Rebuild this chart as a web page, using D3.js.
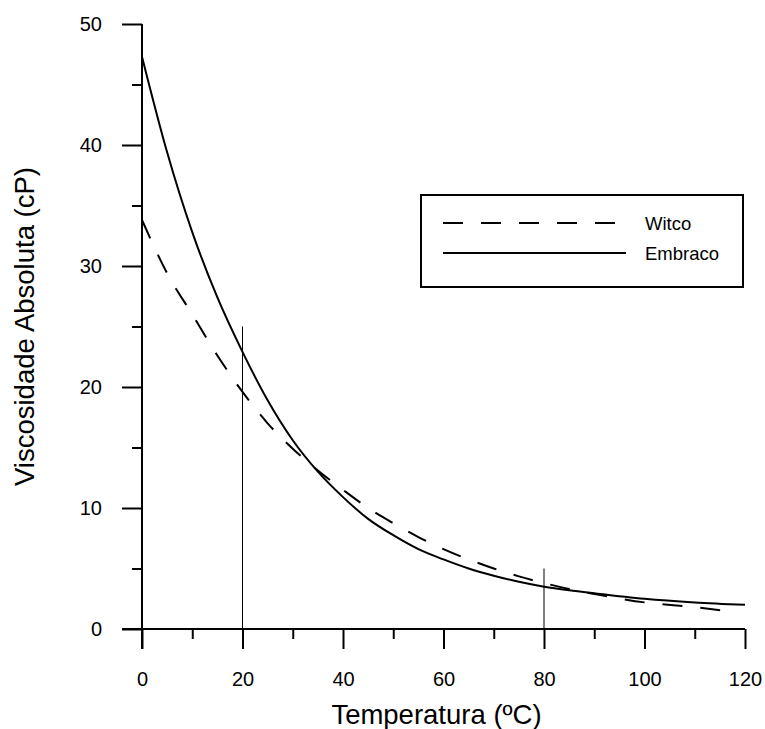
<!DOCTYPE html>
<html>
<head>
<meta charset="utf-8">
<script src="https://d3js.org/d3.v7.min.js"></script>
<style>
  body { margin: 0; background: #fff; }
  svg { font-family: "Liberation Sans", Arial, sans-serif; }
</style>
</head>
<body>
<div id="chart"></div>
<script>
// Temperature points (ºC)
const temps = [0, 5, 10, 15, 20, 25, 30, 35, 40, 45, 50, 55, 60, 65, 70, 75, 80, 85, 90, 100, 110, 120];
const embraco = [47.3, 39.4, 32.8, 27.4, 22.9, 18.9, 15.6, 13.0, 10.9, 9.1, 7.75, 6.6, 5.75, 5.0, 4.4, 3.9, 3.5, 3.2, 2.95, 2.5, 2.2, 2.0];
const witcoTemps = [0, 5, 10, 15, 20, 25, 30, 35, 40, 45, 50, 55, 60, 65, 70, 75, 80, 85, 90, 100, 110, 118];
const witco = [33.8, 29.4, 26.0, 22.6, 19.6, 17.0, 14.9, 13.1, 11.5, 10.0, 8.75, 7.6, 6.6, 5.75, 5.0, 4.35, 3.8, 3.3, 2.9, 2.2, 1.8, 1.4];

const xMajor = [0, 20, 40, 60, 80, 100, 120];
const xMinor = [10, 30, 50, 70, 90, 110];
const yMajor = [0, 10, 20, 30, 40, 50];
const yMinor = [5, 15, 25, 35, 45];

// vertical marker lines: [temperature, top value]
const markers = [[20, 25], [80, 5]];

const seriesNames = ['Witco', 'Embraco'];

const W = 765, H = 729;
const margin = { top: 24, right: 20, bottom: 100, left: 142 },
    width = 745 - margin.left,
    height = 629 - margin.top;

const svg = d3.select('#chart').append('svg')
    .attr('width', W)
    .attr('height', H)
    .append('g')
    .attr('transform', `translate(${margin.left},${margin.top})`);

const x = d3.scaleLinear().domain([0, 120]).range([0, width]);
const y = d3.scaleLinear().domain([0, 50]).range([height, 0]);

// Axes
function styleAxis(g) {
    g.selectAll('path, line').attr('stroke', '#000').attr('stroke-width', 2);
    g.selectAll('text').style('font-size', '20px').attr('fill', '#000');
}

svg.append('g')
    .attr('transform', `translate(0,${height})`)
    .call(d3.axisBottom(x).tickValues(xMajor).tickSize(20).tickSizeOuter(0).tickPadding(23))
    .call(g => g.select('.domain').attr('d', `M-20,0H${width}`))
    .call(styleAxis);

svg.append('g')
    .attr('transform', `translate(0,${height})`)
    .call(d3.axisBottom(x).tickValues(xMinor).tickSize(10).tickFormat(''))
    .call(g => g.select('.domain').remove())
    .call(styleAxis);

svg.append('g')
    .call(d3.axisLeft(y).tickValues(yMajor).tickSize(20).tickSizeOuter(0).tickPadding(20))
    .call(g => g.select('.domain').attr('d', `M0,0V${height + 20}`))
    .call(styleAxis);

svg.append('g')
    .call(d3.axisLeft(y).tickValues(yMinor).tickSize(10).tickFormat(''))
    .call(g => g.select('.domain').remove())
    .call(styleAxis);

// Marker lines
svg.append('g')
    .selectAll('line')
    .data(markers)
    .enter().append('line')
    .attr('x1', d => x(d[0]))
    .attr('x2', d => x(d[0]))
    .attr('y1', y(0))
    .attr('y2', d => y(d[1]))
    .attr('stroke', '#000')
    .attr('stroke-width', 1);

// Curves
const line = d3.line()
    .x(d => x(d[0]))
    .y(d => y(d[1]))
    .curve(d3.curveMonotoneX);

svg.append('path')
    .datum(witcoTemps.map((t, i) => [t, witco[i]]))
    .attr('d', line)
    .attr('fill', 'none')
    .attr('stroke', '#000')
    .attr('stroke-width', 2)
    .attr('stroke-dasharray', '20,18');

svg.append('path')
    .datum(temps.map((t, i) => [t, embraco[i]]))
    .attr('d', line)
    .attr('fill', 'none')
    .attr('stroke', '#000')
    .attr('stroke-width', 2);

// Axis titles
svg.append('text')
    .attr('x', width / 2 - 7)
    .attr('y', height + 95)
    .attr('text-anchor', 'middle')
    .style('font-size', '27.5px')
    .text('Temperatura (ºC)');

svg.append('text')
    .attr('transform', `translate(${34 - margin.left},${height / 2}) rotate(-90)`)
    .attr('text-anchor', 'middle')
    .style('font-size', '27.5px')
    .text('Viscosidade Absoluta (cP)');

// Legend
const legend = svg.append('g')
    .attr('transform', `translate(${421 - margin.left},${195 - margin.top})`);

legend.append('rect')
    .attr('width', 322)
    .attr('height', 92)
    .attr('fill', '#fff')
    .attr('stroke', '#000')
    .attr('stroke-width', 2);

legend.selectAll('line.key')
    .data(seriesNames)
    .enter().append('line')
    .attr('class', 'key')
    .attr('x1', 22)
    .attr('x2', (d, i) => i === 0 ? 197 : 205)
    .attr('y1', (d, i) => 28 + i * 30)
    .attr('y2', (d, i) => 28 + i * 30)
    .attr('stroke', '#000')
    .attr('stroke-width', 2)
    .attr('stroke-dasharray', (d, i) => i === 0 ? '20,18' : null);

legend.selectAll('text')
    .data(seriesNames)
    .enter().append('text')
    .attr('x', 224)
    .attr('y', (d, i) => 35 + i * 30)
    .style('font-size', '18.5px')
    .text(d => d);
</script>
</body>
</html>
